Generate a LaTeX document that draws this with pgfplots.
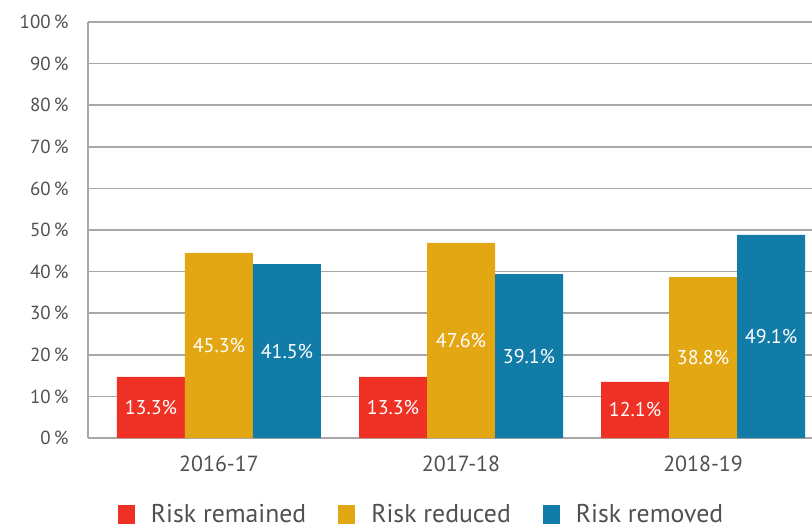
\documentclass[border=0pt]{standalone}
\usepackage{pgfplots}
\pgfplotsset{compat=1.18}
\usepackage{pgfplotstable}
\usepackage{fontspec}
\setmainfont{PT Sans}
\definecolor{cred}{RGB}{238,49,36}
\definecolor{cyel}{RGB}{226,167,18}
\definecolor{cblue}{RGB}{18,124,168}
\definecolor{cgrid}{RGB}{168,168,170}
\definecolor{ctext}{RGB}{80,80,80}

\pgfplotstableread{
x y lab
0 14.7 13.3
1 14.7 13.3
2 13.5 12.1
}\remained
\pgfplotstableread{
x y lab
0 44.5 45.3
1 46.9 47.6
2 38.7 38.8
}\reduced
\pgfplotstableread{
x y lab
0 41.8 41.5
1 39.4 39.1
2 48.8 49.1
}\removed

\begin{document}
\begin{tikzpicture}
\begin{axis}[
  name=ax,
  scale only axis,
  width=724bp, height=416bp,
  xmin=-0.541, xmax=2.45,
  ymin=0, ymax=100,
  ybar=0pt, bar width=68bp,
  axis x line=bottom, axis y line=left,
  axis line style={draw=cgrid, line width=1.5bp, -},
  ymajorgrids, grid style={draw=cgrid, line width=1.5bp},
  major tick length=0pt,
  xtick={0,1,2}, xticklabels={2016-17,2017-18,2018-19},
  ytick={0,10,...,100},
  yticklabel={\pgfmathprintnumber{\tick}\,\%},
  tick label style={text=ctext},
  yticklabel style={font=\fontsize{19}{22}\selectfont, xshift=-16bp},
  xticklabel style={font=\fontsize{22}{25}\selectfont, yshift=-14bp},
  /pgf/number format/assume math mode=true,
  point meta=explicit symbolic,
  visualization depends on={rawy \as \rawy},
  nodes near coords={\pgfplotspointmeta\%},
  every node near coord/.append style={anchor=center, text=white,
     font=\fontsize{20}{23}\selectfont, yshift={-\rawy*2.08bp}},
  legend style={at={(0.041,-0.184)}, anchor=west, draw=none, inner sep=0pt,
     legend columns=3, font=\fontsize{25.8}{28}\selectfont, text=ctext,
     /tikz/every odd column/.append style={column sep=14bp},
     /tikz/every even column/.append style={column sep=30bp}},
  legend image code/.code={\path[#1, draw=none] (0bp,-9bp) rectangle (17bp,10bp);},
]
\addplot[fill=cred, draw=none] table[x=x, y=y, meta=lab] {\remained};
\addplot[fill=cyel, draw=none] table[x=x, y=y, meta=lab] {\reduced};
\addplot[fill=cblue, draw=none] table[x=x, y=y, meta=lab] {\removed};
\legend{Risk remained, Risk reduced, Risk removed}
\end{axis}
\pgfresetboundingbox
\path ([shift={(-88bp,-93bp)}]ax.south west) rectangle ([shift={(0bp,22bp)}]ax.north east);
\end{tikzpicture}
\end{document}
